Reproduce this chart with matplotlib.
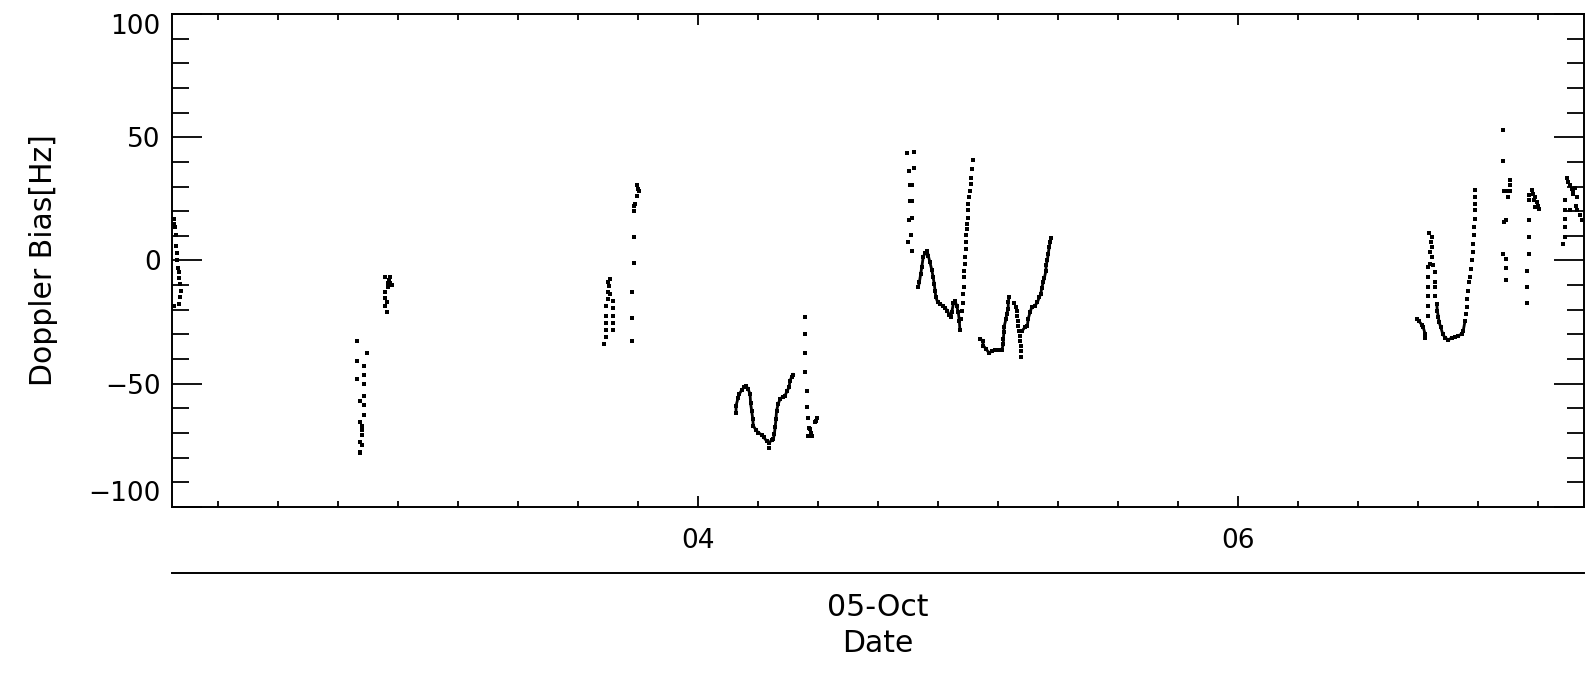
import numpy as np
import matplotlib
matplotlib.use('Agg')
import matplotlib.pyplot as plt
from matplotlib.ticker import FixedLocator, MultipleLocator

# time in decimal hours (UT, 05-Oct), doppler bias in Hz
# sparse dot clusters
a_t = [2.058, 2.060, 2.063, 2.066, 2.067, 2.069, 2.071, 2.074, 2.078, 2.080, 2.082, 2.084, 2.081, 2.079, 2.058]
a_hz = [17.0, 15.0, 13.4, 10.2, 6.0, 3.0, 0.0, -3.0, -4.5, -7.0, -9.5, -12.5, -15.0, -17.5, -18.3]

b_t = [2.737, 2.773, 2.737, 2.764, 2.764, 2.737, 2.764, 2.764, 2.748, 2.764,
       2.764, 2.748, 2.757, 2.757, 2.757, 2.748, 2.757, 2.748, 2.748]
b_hz = [-32.8, -37.7, -40.7, -42.7, -46.3, -48.1, -50.1, -54.9, -56.9, -58.7,
        -62.7, -65.7, -67.1, -68.9, -70.8, -73.8, -74.9, -77.6, -78.3]

c_t = [2.841, 2.860, 2.857, 2.851, 2.867, 2.859, 2.851, 2.841, 2.841, 2.850, 2.841, 2.850]
c_hz = [-6.8, -6.8, -8.1, -9.0, -9.8, -9.2, -10.6, -12.6, -15.4, -16.7, -18.3, -21.1]

d_t = [3.676, 3.668, 3.672, 3.668, 3.676, 3.668, 3.685, 3.659, 3.685, 3.659,
       3.685, 3.659, 3.685, 3.659, 3.685, 3.659, 3.651]
d_hz = [-7.7, -8.8, -10.2, -12.6, -13.5, -15.6, -16.5, -18.4, -19.4, -22.4,
        -22.4, -25.2, -25.2, -28.0, -28.0, -30.9, -33.9]

e_t = [3.773, 3.779, 3.783, 3.773, 3.767, 3.763, 3.763, 3.763, 3.763, 3.756, 3.756, 3.756]
e_hz = [30.5, 29.1, 28.2, 26.0, 23.0, 22.0, 20.0, 9.5, -1.1, -12.6, -23.3, -32.8]

# dense track around 04:10
f_t = [4.141, 4.141, 4.149, 4.153, 4.162, 4.170, 4.178, 4.186, 4.193, 4.195,
       4.199, 4.203, 4.205, 4.215, 4.223, 4.236, 4.244, 4.254, 4.264, 4.273,
       4.279, 4.283, 4.286, 4.289, 4.291, 4.297, 4.304, 4.314, 4.322, 4.331,
       4.337, 4.341, 4.347, 4.353]
f_hz = [-61.7, -58.9, -55.6, -54.2, -52.6, -51.5, -50.8, -52.2, -54.2, -58.0,
        -61.0, -64.3, -67.1, -68.8, -69.8, -70.7, -71.8, -73.2, -73.9, -72.9,
        -72.5, -70.4, -67.5, -64.3, -61.0, -58.3, -56.2, -55.3, -54.9, -52.8,
        -51.5, -48.8, -47.2, -46.3]
f_extra_t = [4.264]
f_extra_hz = [-76.1]

g_t = [4.396, 4.396, 4.396, 4.396, 4.405, 4.403, 4.409, 4.412, 4.417, 4.409, 4.421, 4.415, 4.433, 4.437, 4.442]
g_hz = [-23.0, -29.8, -37.7, -45.4, -53.1, -59.6, -63.7, -67.8, -69.8, -71.1, -71.1, -68.5, -65.7, -65.0, -64.1]

h0_t = [4.773, 4.800, 4.783, 4.800, 4.785, 4.791, 4.785, 4.791, 4.783, 4.791, 4.788, 4.779, 4.791]
h0_hz = [43.4, 44.0, 36.3, 37.5, 30.8, 30.8, 24.0, 24.0, 16.5, 17.2, 10.4, 7.4, 3.8]

h1_t = [4.816, 4.820, 4.825, 4.829, 4.834, 4.841, 4.849, 4.853, 4.859, 4.866,
        4.871, 4.875, 4.878, 4.881, 4.888, 4.896, 4.906, 4.915, 4.923, 4.931,
        4.937, 4.940, 4.946, 4.952, 4.958, 4.964, 4.968, 4.970]
h1_hz = [-10.9, -8.8, -5.4, -2.7, 1.3, 3.0, 3.8, 2.0, -0.7, -3.8,
         -6.8, -9.5, -12.2, -14.9, -17.0, -17.6, -18.3, -19.2, -20.3, -22.0,
         -23.0, -21.0, -17.4, -16.3, -18.3, -21.0, -24.4, -28.2]

h2_t = [4.973, 4.977, 4.980, 4.983, 4.985, 4.986, 4.986, 4.989, 4.989, 4.993,
        4.993, 4.993, 4.995, 4.995, 5.001, 5.001, 5.001, 5.005, 5.007, 5.010,
        5.010, 5.014, 5.020]
h2_hz = [-23.7, -20.3, -17.4, -13.5, -10.9, -6.8, -4.1, -1.3, 1.6, 4.8,
         7.4, 10.2, 12.9, 14.9, 17.4, 20.3, 23.0, 25.7, 28.0, 31.2,
         33.6, 37.3, 40.7]

h3_t = [5.044, 5.054, 5.057, 5.067, 5.079, 5.088, 5.100, 5.112, 5.125, 5.131,
        5.131, 5.133, 5.133, 5.141, 5.143, 5.149, 5.149, 5.152]
h3_hz = [-31.8, -32.5, -34.6, -35.9, -37.7, -36.6, -36.3, -36.3, -36.3, -33.9,
         -31.8, -29.1, -27.1, -23.7, -21.7, -19.6, -17.0, -14.9]

h4_t = [5.170, 5.178, 5.183, 5.183, 5.186, 5.186, 5.190, 5.193, 5.193, 5.195, 5.195, 5.195]
h4_hz = [-17.4, -18.7, -20.3, -22.4, -24.4, -26.4, -28.5, -30.5, -32.5, -34.6, -36.6, -39.3]

h5_t = [5.199, 5.211, 5.220, 5.223, 5.230, 5.236, 5.248, 5.257, 5.264, 5.270,
        5.273, 5.279, 5.283, 5.289, 5.289, 5.294, 5.297, 5.301, 5.304, 5.307]
h5_hz = [-28.7, -27.1, -26.4, -23.7, -21.0, -19.0, -18.3, -17.0, -14.9, -13.5,
         -11.1, -8.8, -7.0, -4.1, -2.0, 0.0, 2.7, 5.4, 7.4, 9.2]

i1_t = [6.664, 6.671, 6.680, 6.686, 6.693, 6.693]
i1_hz = [-23.7, -24.7, -26.0, -27.1, -29.8, -31.4]

i2_t = [6.703, 6.703, 6.703, 6.703, 6.703, 6.705, 6.708, 6.717, 6.714, 6.717,
        6.711, 6.717, 6.711, 6.721, 6.730, 6.730, 6.730, 6.730]
i2_hz = [-22.4, -18.3, -14.6, -10.8, -6.8, -2.7, 11.1, 9.5, 7.4, 5.4,
         3.4, 1.3, -1.3, -2.0, -4.7, -8.8, -10.8, -14.6]

i3_t = [6.736, 6.738, 6.742, 6.745, 6.751, 6.758, 6.767, 6.779, 6.791, 6.804,
        6.816, 6.829, 6.834, 6.841]
i3_hz = [-17.6, -20.3, -23.0, -25.1, -27.1, -29.8, -31.4, -32.2, -31.4, -31.2,
         -30.5, -29.8, -28.5, -24.4]

i4_t = [6.844, 6.847, 6.849, 6.853, 6.856, 6.859, 6.862, 6.866, 6.869, 6.872,
        6.875, 6.875, 6.878, 6.878, 6.878]
i4_hz = [-21.7, -19.0, -15.6, -12.2, -8.8, -6.8, -3.4, 0.0, 3.4, 6.8,
         10.2, 13.5, 17.0, 20.3, 23.0]
i4b_t = [6.878, 6.878]
i4b_hz = [25.7, 28.7]

j_t = [6.983, 6.983, 7.007, 7.007, 7.007, 6.985, 6.993, 7.001, 6.985, 6.993, 6.983, 6.993, 6.993, 6.993]
j_hz = [52.8, 40.2, 32.5, 30.5, 28.2, 28.2, 28.2, 25.7, 15.6, 16.3, 2.7, 0.7, -3.0, -7.8]

k_t = [7.088, 7.094, 7.100, 7.096, 7.106, 7.112, 7.116, 7.100, 7.079, 7.079,
       7.079, 7.079, 7.079, 7.071, 7.071, 7.071]
k_hz = [28.7, 27.1, 25.7, 24.4, 23.7, 22.0, 21.0, 21.7, 26.4, 24.4,
        16.3, 9.5, 2.7, -4.1, -10.9, -17.4]

l_t = [7.217, 7.223, 7.230, 7.236, 7.240, 7.248, 7.242, 7.254, 7.252, 7.267,
       7.273, 7.211, 7.211, 7.211, 7.211, 7.211, 7.203, 7.230, 7.254]
l_hz = [33.6, 31.8, 30.5, 29.1, 28.7, 29.6, 27.1, 25.7, 22.0, 18.3,
        16.3, 24.4, 20.3, 17.0, 13.5, 9.5, 6.8, 20.3, 20.3]

sparse = [(a_t, a_hz), (b_t, b_hz), (c_t, c_hz), (d_t, d_hz), (e_t, e_hz),
          (f_extra_t, f_extra_hz), (g_t, g_hz), (h0_t, h0_hz), (h2_t, h2_hz),
          (h4_t, h4_hz), (i2_t, i2_hz), (i4_t, i4_hz), (i4b_t, i4b_hz),
          (j_t, j_hz), (k_t, k_hz), (l_t, l_hz)]
dense = [(f_t, f_hz), (h1_t, h1_hz), (h3_t, h3_hz), (h5_t, h5_hz),
         (i1_t, i1_hz), (i3_t, i3_hz)]

xticks = [4, 6]
xtick_labels = ['04', '06']
yticks = [-100, -50, 0, 50, 100]

plt.rcParams['font.family'] = 'DejaVu Sans'
plt.rcParams['font.size'] = 19

fig = plt.figure(figsize=(15.89, 6.75), dpi=100)
ax = fig.add_axes([0.1082, 0.2489, 0.8886, 0.7304])

for t, v in sparse:
    ax.plot(t, v, linestyle='none', marker='s', ms=2.4, mew=0, color='black')
for t, v in dense:
    ax.plot(t, v, linestyle='-', lw=2.0, marker='s', ms=2.4, mew=0, color='black')

ax.set_xlim(2.052, 7.281)
ax.set_ylim(-100, 100)

ax.set_xticks(xticks)
ax.set_xticklabels(xtick_labels)
minor_x = [4 + k * 2 / 9 for k in range(-8, 15) if k % 9 != 0]
ax.xaxis.set_minor_locator(FixedLocator(minor_x))
ax.set_yticks(yticks)
ax.yaxis.set_minor_locator(MultipleLocator(10))

ax.tick_params(axis='both', which='both', direction='in', top=True, right=True, width=1.3)
ax.tick_params(axis='x', which='major', length=7.7, pad=15)
ax.tick_params(axis='x', which='minor', length=4)
ax.tick_params(axis='y', which='major', length=21.6, pad=8)
ax.tick_params(axis='y', which='minor', length=12)
for s in ax.spines.values():
    s.set_linewidth(1.4)

# keep end labels inside the axis range like the original
ylabels = ax.get_yticklabels()
ylabels[0].set_verticalalignment('bottom')
ylabels[-1].set_verticalalignment('top')

ax.set_ylabel('Doppler Bias[Hz]', fontsize=21.5)
ax.yaxis.set_label_coords(-0.081, 0.5)

# second (date) axis line below the plot
ax2 = fig.add_axes([0.1082, 0.1511, 0.8886, 0.001])
ax2.set_xticks([])
ax2.set_yticks([])
for name in ['top', 'left', 'right']:
    ax2.spines[name].set_visible(False)
ax2.spines['bottom'].set_linewidth(1.4)
ax2.patch.set_visible(False)

fig.text(0.1082 + 0.8886 / 2, 1 - 607 / 675, '05-Oct', ha='center', va='center', fontsize=21.5)
fig.text(0.1082 + 0.8886 / 2, 1 - 643 / 675, 'Date', ha='center', va='center', fontsize=21.5)

fig.savefig('out.png', dpi=100)
